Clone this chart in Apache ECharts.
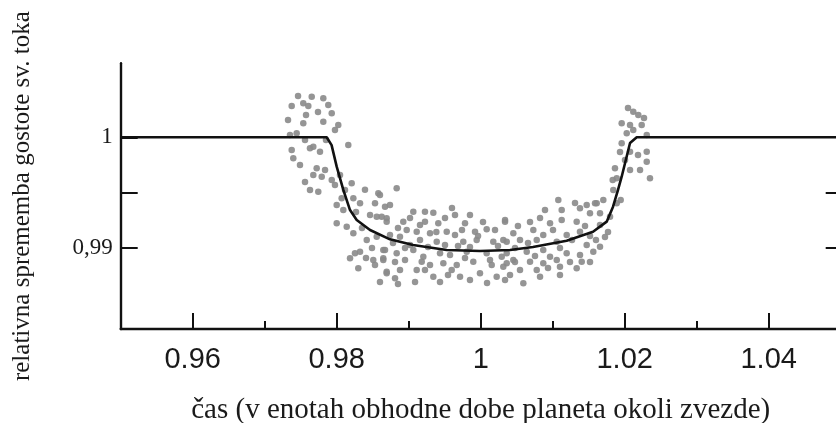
<!DOCTYPE html>
<html>
<head>
<meta charset="utf-8">
<script src="https://cdn.jsdelivr.net/npm/echarts@6/dist/echarts.min.js"></script>
<style>
html,body{margin:0;padding:0;background:#fff;}
#chart{width:836px;height:423px;}
</style>
</head>
<body>
<div id="chart"></div>
<script>
// Observed points (time in orbital periods, relative flux)
const obsTime = [
0.97653,0.97814,0.97375,0.97536,0.97606,0.97883,0.97574,0.97931,0.97814,0.97536,
0.98022,0.97976,0.97351,0.97444,0.97375,0.97675,0.97768,0.98161,0.97629,0.97397,
0.97490,0.97722,0.97838,0.97675,0.97792,0.97931,0.97976,0.97744,0.98208,0.98069,
0.98000,0.98092,0.98231,0.98324,0.98578,0.98532,0.98671,0.98000,0.98139,0.98556,
0.98694,0.98231,0.98417,0.98556,0.98254,0.98324,0.98185,0.98508,0.98647,0.98300,
0.98694,0.98647,
0.98833,0.98601,0.98740,0.99064,0.99226,0.99342,0.98625,0.98694,0.98925,0.99226,
0.99411,0.99782,1.00338,0.98972,0.99111,0.99296,0.99528,0.99643,0.99921,1.00083,
0.98740,0.98879,0.99157,0.99389,0.99758,0.99944,1.00175,1.00314,0.98671,0.98833,
0.99064,0.99203,0.99435,0.99574,0.99806,1.00083,1.00292,0.98647,0.98949,0.99181,
0.99481,0.99667,0.99897,1.00153,1.00361,0.98694,0.98879,0.99111,0.99342,0.99597,
0.99713,0.99990,1.00222,0.98810,
1.01078,1.01125,1.01379,1.01472,1.01611,1.00338,1.00963,1.01125,1.01333,1.01518,
1.01657,1.01796,1.00453,1.00731,1.00869,1.01194,1.01379,1.00361,1.00546,1.00778,
1.01056,1.01472,1.01657,1.00361,1.00639,1.00869,1.00963,1.01194,1.01379,1.01564,
1.00453,1.00685,1.00869,1.01056,1.01403,1.00314,1.00546,1.00778,1.01101,1.01333,
1.00592,1.00824,1.01842,1.01889,
1.02119,1.02189,1.01958,1.02074,1.02236,1.02028,1.02119,1.02306,1.01958,1.02306,
1.02074,1.02306,1.01865,1.02074,1.02213,1.02351,1.01889,1.02004,1.01588,1.01703,
0.99018,0.99504,0.99851,1.00476,1.01101,0.99296,0.99782,1.00129,1.00935,1.01240,
0.99851,0.99435,0.98810,1.01518,1.00685,0.99643,0.98463,0.98393,1.01657,1.01768,
0.98851,0.99018,0.99157,0.99504,0.99601,0.99851,1.00032,1.00199,1.00517,1.00824,
1.01004,1.01268,1.01101,1.01518,1.01601,1.00407,1.00657,1.00240,0.99685,0.99268,
0.98949,0.98782,0.99088,0.99546,1.00088,1.00338,0.98532,0.98407,0.98490,0.98351,
0.98268,0.98115,0.98046,0.97560,0.97324,0.97463,0.97740,0.97851,0.97560,0.97629,
1.01944,1.01833,1.02046,1.02268,1.01935,1.02185,1.01726,1.01449,1.00893,1.01310,
0.99384,0.99963,0.99740,1.00476,1.00754,0.99226,0.98851,0.98601
];
const obsFlux = [
1.00368,1.00353,1.00284,1.00308,1.00284,1.00293,1.00202,1.00217,1.00141,1.00127,
1.00111,1.00066,1.00021,1.00036,0.99885,0.99915,0.99870,0.99930,0.99900,0.99810,
0.99749,0.99719,0.99704,0.99659,0.99643,0.99613,0.99568,0.99507,0.99583,0.99447,
0.99387,0.99341,0.99447,0.99402,0.99493,0.99402,0.99371,0.99221,0.99190,0.99281,
0.99266,0.99130,0.99070,0.99100,0.98949,0.98964,0.98904,0.98889,0.98904,0.98813,
0.98768,0.98979,
0.99538,0.99477,0.99387,0.99326,0.99326,0.99317,0.99281,0.99236,0.99236,0.99236,
0.99221,0.99221,0.99236,0.99160,0.99145,0.99130,0.99145,0.99115,0.99145,0.99167,
0.99115,0.99100,0.99070,0.99054,0.99054,0.99070,0.99054,0.99070,0.98979,0.98949,
0.98979,0.98918,0.98949,0.98934,0.98964,0.98949,0.98918,0.98889,0.98889,0.98873,
0.98859,0.98843,0.98873,0.98843,0.98859,0.98783,0.98798,0.98798,0.98737,0.98798,
0.98737,0.98768,0.98737,0.98723,
0.99432,0.99341,0.99357,0.99387,0.99402,0.99251,0.99221,0.99251,0.99236,0.99312,
0.99312,0.99281,0.99130,0.99160,0.99115,0.99115,0.99145,0.99054,0.99070,0.99070,
0.99054,0.99024,0.99009,0.98949,0.98964,0.98979,0.98918,0.98949,0.98934,0.98964,
0.98889,0.98873,0.98859,0.98889,0.98873,0.98828,0.98798,0.98798,0.98828,0.98813,
0.98678,0.98737,0.99523,0.99402,
1.00232,1.00202,1.00127,1.00111,1.00111,1.00036,1.00066,1.00021,0.99946,0.99870,
0.99870,0.99779,0.99719,0.99704,0.99704,0.99629,0.99629,0.99794,0.99402,0.99432,
0.99024,0.99024,0.99006,0.98997,0.98997,0.98843,0.98907,0.98889,0.98816,0.98870,
0.98708,0.98690,0.98870,0.99106,0.99233,0.99296,0.99296,0.99525,0.99205,0.99142,
0.99178,0.99270,0.99206,0.99270,0.99360,0.99296,0.99233,0.99160,0.99197,0.99270,
0.99160,0.99070,0.98753,0.98870,0.99070,0.98753,0.99043,0.99015,0.99015,0.99006,
0.98997,0.99043,0.98690,0.98753,0.98680,0.98708,0.98843,0.98907,0.98997,0.99178,
0.99323,0.99523,0.99658,0.99976,1.00157,1.00374,1.00229,0.99976,0.99596,0.99523,
0.99432,0.99613,1.00265,1.00175,0.99867,0.99839,0.99097,0.99196,0.99341,0.99405,
0.99142,0.99106,0.99160,0.98870,0.98925,0.98798,0.98671,0.98690
];
// Model light curve
const modelTime = [0.95,0.97861,0.97929,0.98000,0.98092,0.98185,0.98278,0.98463,0.98740,0.99060,
  0.99528,0.99990,1.00407,1.00726,1.01194,1.01560,1.01750,1.01838,1.01907,1.01958,1.02074,1.02167,1.05];
const modelFlux = [1.0,1.0,0.99929,0.99734,0.99523,0.99341,0.99251,0.99160,0.99076,0.99024,
  0.98979,0.98970,0.98979,0.99006,0.99063,0.99145,0.99236,0.99371,0.99523,0.99643,0.99948,1.0,1.0];
// Axis ticks and labels
const xMajorTicks = [0.96,0.98,1,1.02,1.04];
const xMinorTicks = [0.97,0.99,1.01,1.03];
const yTicks = [0.99,0.995,1];
const yLabelValues = [0.99,1];

const zip = (a,b) => a.map((v,i) => [v,b[i]]);
const X_MIN = 0.95, X_MAX = 1.05, Y_MIN = 0.982636, Y_MAX = 1.006703;

const chart = echarts.init(document.getElementById('chart'), null, {renderer:'canvas'});
chart.setOption({
  animation:false,
  backgroundColor:'#ffffff',
  grid:{left:120.7, top:63.3, width:720, height:265.7, containLabel:false, outerBoundsMode:'none'},
  xAxis:[{
    type:'value', min:X_MIN, max:X_MAX,
    axisLine:{show:true, onZero:false, lineStyle:{color:'#111', width:2.4}},
    axisTick:{show:true, inside:true, length:16, customValues:xMajorTicks, lineStyle:{color:'#111', width:2}},
    axisLabel:{show:true, customValues:xMajorTicks, margin:16, fontFamily:'Liberation Sans', fontSize:29, color:'#1a1a1a',
      formatter:v => String(+v.toFixed(2))},
    splitLine:{show:false},
    name:'čas (v enotah obhodne dobe planeta okoli zvezde)',
    nameLocation:'middle', nameGap:67,
    nameTextStyle:{fontFamily:'Liberation Serif', fontSize:29, color:'#1a1a1a'}
  },{
    type:'value', min:X_MIN, max:X_MAX, position:'bottom',
    axisLine:{show:false},
    axisTick:{show:true, inside:true, length:8, customValues:xMinorTicks, lineStyle:{color:'#111', width:2}},
    axisLabel:{show:false}, splitLine:{show:false}
  }],
  yAxis:[{
    type:'value', min:Y_MIN, max:Y_MAX, position:'left',
    axisLine:{show:true, onZero:false, lineStyle:{color:'#111', width:2.4}},
    axisTick:{show:true, inside:true, length:17, customValues:yTicks, lineStyle:{color:'#111', width:2}},
    axisLabel:{show:true, customValues:yLabelValues, margin:8, fontFamily:'Liberation Serif', fontSize:23, color:'#1a1a1a',
      formatter:v => String(+v.toFixed(3)).replace('.', ',')},
    splitLine:{show:false},
    name:'relativna sprememba gostote sv. toka',
    nameLocation:'middle', nameRotate:90, nameGap:86,
    nameTextStyle:{fontFamily:'Liberation Serif', fontSize:25, color:'#1a1a1a'}
  },{
    type:'value', min:Y_MIN, max:Y_MAX, position:'right',
    axisLine:{show:false},
    axisTick:{show:true, inside:true, length:15, customValues:[0.99,0.995], lineStyle:{color:'#111', width:2}},
    axisLabel:{show:false}, splitLine:{show:false}
  }],
  series:[{
    type:'scatter', xAxisIndex:0, yAxisIndex:0,
    data:zip(obsTime, obsFlux),
    symbol:'circle', symbolSize:6.5,
    itemStyle:{color:'#8a8a8a', opacity:0.9},
    z:2
  },{
    type:'line', xAxisIndex:0, yAxisIndex:0,
    data:zip(modelTime, modelFlux),
    showSymbol:false, smooth:false,
    lineStyle:{color:'#111', width:2.6},
    z:3
  }]
});
</script>
</body>
</html>
